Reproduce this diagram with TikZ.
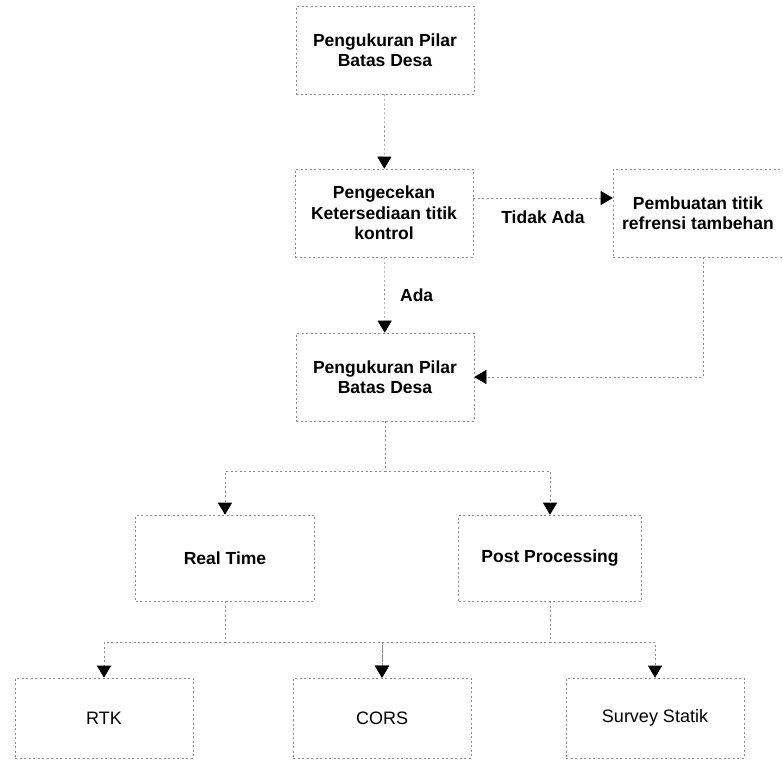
\documentclass[tikz,border=0pt]{standalone}
\usepackage{fontspec}
\setmainfont{Liberation Sans}
\usepackage{tikz}
\usetikzlibrary{arrows.meta}

\begin{document}
\begin{tikzpicture}[x=1pt,y=-1pt,
  kotak/.style={draw=black!45,line width=0.6pt,dash pattern=on 2pt off 2.5pt,
    minimum width=178pt,minimum height=88pt,align=center,inner sep=0pt,
    font=\fontsize{17.5}{20.5}\selectfont\bfseries},
  kotakb/.style={kotak,font=\fontsize{18}{21}\selectfont},
  alur/.style={draw=black!45,line width=0.6pt,dash pattern=on 2pt off 2.5pt,
    -{Triangle[width=14pt,length=12pt,color=black]}},
  ket/.style={font=\fontsize{17.5}{20.5}\selectfont\bfseries}]
\useasboundingbox (0,0) rectangle (783,769);
\node[kotak] (mulai) at (385,50) {Pengukuran Pilar\\Batas Desa};
\node[kotak] (cek) at (384,213) {Pengecekan\\Ketersediaan titik\\kontrol};
\node[kotak,minimum width=170pt] (buat) at (698,213) {Pembuatan titik\\refrensi tambehan};
\node[kotak] (ukur) at (385,377) {Pengukuran Pilar\\Batas Desa};
\node[kotak,minimum width=179pt,minimum height=86pt] (rt) at (225,558) {Real Time};
\node[kotak,minimum width=183pt,minimum height=86pt] (pp) at (550,558) {Post Processing};
\node[kotakb,minimum height=80pt] (rtk) at (104,718) {RTK};
\node[kotakb,minimum height=80pt] (cors) at (382,718) {CORS};
\node[kotakb,minimum height=80pt] (statik) at (655,718) {Survey Statik};
\draw[alur] (mulai) -- (cek);
\draw[alur] ([yshift=15pt]cek.east) -- ([yshift=15pt]buat.west)
  node[ket,midway,below=9pt] {Tidak Ada};
\draw[alur] (cek) -- (ukur) node[ket,midway,right=12pt] {Ada};
\draw[alur] ([xshift=5pt]buat.south) |- (ukur.east);
\draw[alur] (ukur.south) -- ++(0,50) -| (rt.north);
\draw[alur] (ukur.south) -- ++(0,50) -| (pp.north);
\draw[alur] (rt.south) -- ++(0,41) -| (rtk.north);
\draw[alur] (rt.south) -- ++(0,41) -| (cors.north);
\draw[alur] (pp.south) -- ++(0,41) -| (cors.north);
\draw[alur] (pp.south) -- ++(0,41) -| (statik.north);
\end{tikzpicture}
\end{document}
